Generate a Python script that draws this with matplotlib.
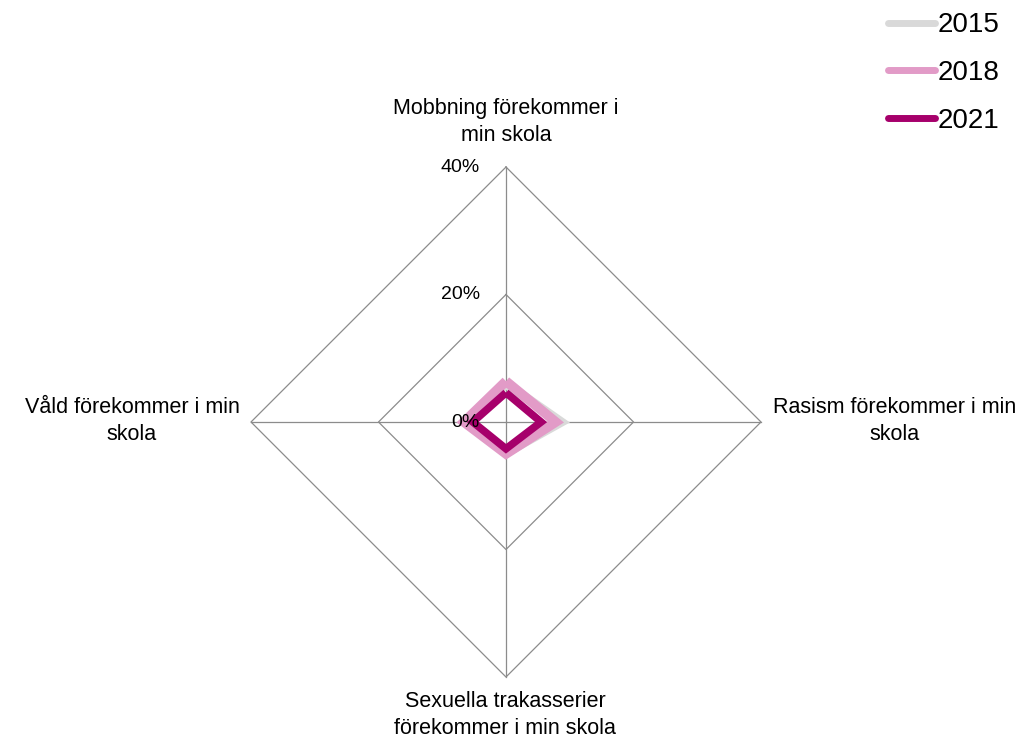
import numpy as np
import matplotlib
matplotlib.use("Agg")
import matplotlib.pyplot as plt

# ----------------------------------------------------------------------------
# Data (percent), clockwise from top
# ----------------------------------------------------------------------------
categories = [
    "Mobbning förekommer i\nmin skola",
    "Rasism förekommer i min\nskola",
    "Sexuella trakasserier\nförekommer i min skola",
    "Våld förekommer i min\nskola",
]
years = ["2015", "2018", "2021"]
v2015 = [6.0, 8.6, 4.8, 6.2]
v2018 = [6.4, 7.8, 5.0, 6.6]
v2021 = [4.6, 5.5, 4.2, 5.2]
ticks = [0, 20, 40]
tick_labels = ["0%", "20%", "40%"]

colors = ["#D9D9D9", "#E29BC7", "#A6006B"]
widths = [7, 7, 5.5]

angles = np.linspace(0, 2 * np.pi, len(categories), endpoint=False)


def to_xy(vals):
    r = np.append(vals, vals[0])
    a = np.append(angles, angles[0])
    return r * np.sin(a), r * np.cos(a)


W, H = 1024, 742
cx, cy, scale = 506, 422, 255 / 40.0   # pixel center and px per percent

fig = plt.figure(figsize=(W / 100, H / 100), dpi=100)
ax = fig.add_axes([0, 0, 1, 1])
ax.set_xlim(-cx / scale, (W - cx) / scale)
ax.set_ylim(-(H - cy) / scale, cy / scale)
ax.axis("off")

# grid rings + spokes
for t in ticks[1:]:
    gx, gy = to_xy(np.full(len(categories), t))
    ax.plot(gx, gy, color="#8C8C8C", lw=0.9, zorder=1)
for a in angles:
    ax.plot([0, 40 * np.sin(a)], [0, 40 * np.cos(a)], color="#8C8C8C", lw=0.9, zorder=1)

# series
for vals, lab, c, lw in zip([v2015, v2018, v2021], years, colors, widths):
    x, y = to_xy(np.array(vals))
    ax.plot(x, y, color=c, lw=lw, label=lab, solid_joinstyle="miter",
            solid_capstyle="butt", zorder=3)

# radial tick labels (drawn above the series, as in the original)
for t, tl in zip(ticks, tick_labels):
    ax.text(-26 / scale, t, tl, ha="right", va="center", fontsize=14,
            family="Liberation Sans", zorder=5)

# category labels
lab_pos = [(506, 122), (895, 421), (505, 715), (132, 421)]
for (px, py), lab in zip(lab_pos, categories):
    ax.text((px - cx) / scale, (cy - py) / scale, lab, ha="center", va="center",
            fontsize=15.5, family="Liberation Sans", linespacing=1.35)

leg = ax.legend(loc="upper right", bbox_to_anchor=(0.99, 1.002), frameon=False,
                prop={"family": "Liberation Sans", "size": 20},
                handlelength=1.7, handletextpad=0.1, labelspacing=0.78,
                borderaxespad=0.1)
for h in leg.get_lines():
    h.set_linewidth(5)
    h.set_solid_capstyle("round")

fig.savefig("out.png", dpi=100)
